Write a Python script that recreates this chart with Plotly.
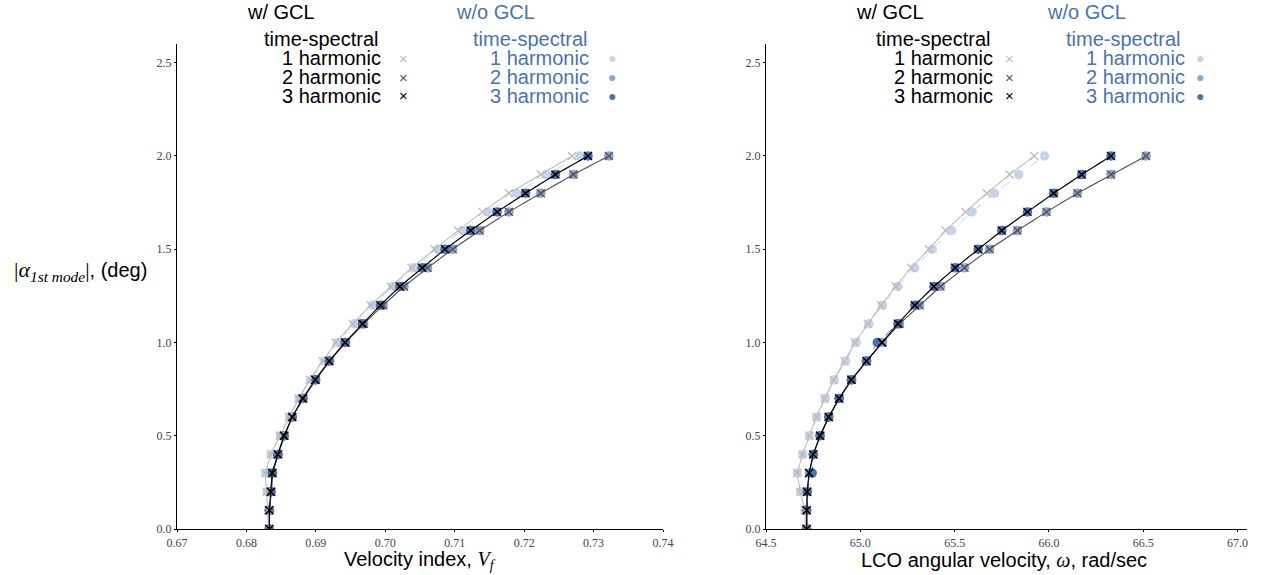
import plotly.graph_objects as go

# ---------------- data ----------------
amp = [0.0, 0.1, 0.2, 0.3, 0.4, 0.5, 0.6, 0.7, 0.8, 0.9, 1.0,
       1.1, 1.2, 1.3, 1.4, 1.5, 1.6, 1.7, 1.8, 1.9, 2.0]

# Velocity index Vf (left panel)
vf_gcl_h1 = [0.6832, 0.6831, 0.6829, 0.6827, 0.6835, 0.6848, 0.6861, 0.6875, 0.6891, 0.6910, 0.6929,
             0.6953, 0.6979, 0.7008, 0.7038, 0.7071, 0.7105, 0.7140, 0.7178, 0.7224, 0.7269]
vf_gcl_h2 = [0.6833, 0.6833, 0.6836, 0.6838, 0.6846, 0.6855, 0.6866, 0.6882, 0.6900, 0.6920, 0.6943,
             0.6969, 0.6997, 0.7027, 0.7061, 0.7097, 0.7136, 0.7178, 0.7224, 0.7271, 0.7322]
vf_gcl_h3 = [0.6833, 0.6833, 0.6835, 0.6837, 0.6845, 0.6854, 0.6866, 0.6881, 0.6899, 0.6919, 0.6942,
             0.6967, 0.6993, 0.7021, 0.7053, 0.7086, 0.7123, 0.7161, 0.7202, 0.7245, 0.7292]
vf_nogcl_h1 = [0.6832, 0.6832, 0.6830, 0.6828, 0.6836, 0.6849, 0.6862, 0.6876, 0.6893, 0.6912, 0.6931,
               0.6956, 0.6982, 0.7011, 0.7041, 0.7075, 0.7111, 0.7148, 0.7189, 0.7233, 0.7280]
vf_nogcl_h2 = [0.6833, 0.6833, 0.6836, 0.6838, 0.6846, 0.6855, 0.6866, 0.6882, 0.6900, 0.6920, 0.6943,
               0.6969, 0.6997, 0.7027, 0.7061, 0.7097, 0.7136, 0.7178, 0.7224, 0.7271, 0.7322]
vf_nogcl_h3 = [0.6833, 0.6833, 0.6835, 0.6837, 0.6845, 0.6854, 0.6866, 0.6881, 0.6899, 0.6919, 0.6942,
               0.6967, 0.6993, 0.7021, 0.7053, 0.7086, 0.7123, 0.7161, 0.7202, 0.7245, 0.7292]

# LCO angular velocity omega (right panel)
om_gcl_h1 = [64.711, 64.705, 64.682, 64.665, 64.693, 64.729, 64.767, 64.811, 64.859, 64.917, 64.972,
             65.040, 65.111, 65.187, 65.270, 65.363, 65.452, 65.558, 65.671, 65.791, 65.923]
om_gcl_h2 = [64.716, 64.716, 64.719, 64.730, 64.752, 64.788, 64.834, 64.889, 64.955, 65.035, 65.118,
             65.208, 65.314, 65.425, 65.552, 65.685, 65.833, 65.987, 66.151, 66.329, 66.515]
om_gcl_h3 = [64.715, 64.715, 64.718, 64.728, 64.750, 64.786, 64.832, 64.887, 64.952, 65.032, 65.114,
             65.199, 65.289, 65.390, 65.503, 65.625, 65.750, 65.886, 66.025, 66.174, 66.329]
om_nogcl_h1 = [64.712, 64.707, 64.684, 64.667, 64.695, 64.731, 64.770, 64.814, 64.862, 64.922, 64.978,
               65.045, 65.118, 65.199, 65.288, 65.381, 65.484, 65.593, 65.711, 65.840, 65.976]
om_nogcl_h2 = [64.716, 64.716, 64.719, 64.730, 64.752, 64.788, 64.834, 64.889, 64.955, 65.035, 65.118,
               65.208, 65.314, 65.425, 65.552, 65.685, 65.833, 65.987, 66.151, 66.329, 66.515]
om_nogcl_h3 = [64.715, 64.715, 64.718, 64.745, 64.750, 64.786, 64.832, 64.887, 64.952, 65.032, 65.090,
               65.199, 65.289, 65.390, 65.503, 65.625, 65.750, 65.886, 66.025, 66.174, 66.329]

vf_ticks = [0.67, 0.68, 0.69, 0.70, 0.71, 0.72, 0.73, 0.74]
om_ticks = [64.5, 65.0, 65.5, 66.0, 66.5, 67.0]
amp_ticks = [0.0, 0.5, 1.0, 1.5, 2.0, 2.5]

harm_labels = ["1 harmonic", "2 harmonic", "3 harmonic"]
gcl_colors = ["#bdbdbd", "#555555", "#000000"]
nogcl_colors = ["#c8d3e8", "#8fa3cc", "#4c72b0"]
blue_text = "#4c72b0"

# ---------------- figure ----------------
fig = go.Figure()

panels = [
    ("x", "y", [vf_nogcl_h1, vf_nogcl_h2, vf_nogcl_h3], [vf_gcl_h1, vf_gcl_h2, vf_gcl_h3]),
    ("x2", "y2", [om_nogcl_h1, om_nogcl_h2, om_nogcl_h3], [om_gcl_h1, om_gcl_h2, om_gcl_h3]),
]
for xa, ya, nogcl, gcl in panels:
    for i, xs in enumerate(nogcl):
        fig.add_trace(go.Scatter(
            x=xs, y=amp, xaxis=xa, yaxis=ya, mode="lines+markers",
            line=dict(color=nogcl_colors[i], width=1, dash="dash"),
            marker=dict(symbol="circle", size=9.5, color=nogcl_colors[i], line=dict(width=0)),
            showlegend=False, hoverinfo="x+y"))
    for i, xs in enumerate(gcl):
        fig.add_trace(go.Scatter(
            x=xs, y=amp, xaxis=xa, yaxis=ya, mode="lines+markers",
            line=dict(color=gcl_colors[i], width=1.1),
            marker=dict(symbol="x-thin", size=8, color=gcl_colors[i],
                        line=dict(width=1.4, color=gcl_colors[i])),
            showlegend=False, hoverinfo="x+y"))

# plot-area geometry (pixels)
W, H = 1262, 575
L, R, T, B = 177, 1247, 44, 529
xdom1 = [0, (663 - L) / (R - L)]
xdom2 = [(766 - L) / (R - L), 1]

tickfont = dict(family="Liberation Serif, DejaVu Serif, serif", size=12, color="#444444")
axis_common = dict(showline=True, linecolor="black", linewidth=1.2, ticks="outside",
                   ticklen=2, tickcolor="black", tickwidth=1, showgrid=False,
                   zeroline=False, tickfont=tickfont, mirror=False, automargin=False)

fig.update_layout(
    width=W, height=H,
    margin=dict(l=L, r=W - R, t=T, b=H - B, autoexpand=False),
    plot_bgcolor="white", paper_bgcolor="white", showlegend=False,
    xaxis=dict(domain=xdom1, range=[0.67, 0.74], tickvals=vf_ticks,
               ticktext=[f"{v:.2f}" for v in vf_ticks], anchor="y", **axis_common),
    yaxis=dict(domain=[0, 1], range=[0, 2.6], tickvals=amp_ticks,
               ticktext=[f"{v:.1f}" for v in amp_ticks], anchor="x", **axis_common),
    xaxis2=dict(domain=xdom2, range=[64.5, 67.05], tickvals=om_ticks,
                ticktext=[f"{v:.1f}" for v in om_ticks], anchor="y2", **axis_common),
    yaxis2=dict(domain=[0, 1], range=[0, 2.6], tickvals=amp_ticks,
                ticktext=[f"{v:.1f}" for v in amp_ticks], anchor="x2", **axis_common),
)


def px(xp):
    return (xp - L) / (R - L)


def py(yp):
    return (B - yp) / (B - T)


sans = "Liberation Sans, Arial, Helvetica, sans-serif"
serif = "Liberation Serif, DejaVu Serif, serif"


def note(text, xp, yp, xanchor="center", color="black", size=20, family=sans):
    fig.add_annotation(text=text, x=px(xp), y=py(yp), xref="paper", yref="paper",
                       xanchor=xanchor, yanchor="middle", showarrow=False,
                       font=dict(family=family, size=size, color=color))


# axis titles
note("Velocity index, <i><span style='font-family:%s'>V<sub>f</sub></span></i>" % serif, 420, 560)
note("LCO angular velocity, <i><span style='font-family:%s'>ω</span></i>, rad/sec" % serif, 1004, 560)
note("<span style='font-family:%s;font-size:22px'>|<i>α</i><sub><i>1st mode</i></sub>|</span>, (deg)" % serif,
     149, 271, xanchor="right")

# legends (as text blocks)
legend_geom = [
    dict(gcl_c=281, nogcl_c=495, ts_r=380, h_r=383, xm=403, bts_r=589, bh_r=591, bm=612),
    dict(gcl_c=890, nogcl_c=1086, ts_r=992, h_r=995, xm=1009, bts_r=1182, bh_r=1187, bm=1200),
]
rows_y = [58, 77, 96]
for g in legend_geom:
    note("w/ GCL", g["gcl_c"], 12)
    note("w/o GCL", g["nogcl_c"], 12, color=blue_text)
    note("time-spectral", g["ts_r"], 39, xanchor="right")
    note("time-spectral", g["bts_r"], 39, xanchor="right", color=blue_text)
    for i, lab in enumerate(harm_labels):
        note(lab, g["h_r"], rows_y[i], xanchor="right")
        note("×", g["xm"], rows_y[i], color=gcl_colors[i], size=15)
        note(lab, g["bh_r"], rows_y[i], xanchor="right", color=blue_text)
        note("●", g["bm"], rows_y[i], color=nogcl_colors[i], size=14)

fig.write_html("out.html")
